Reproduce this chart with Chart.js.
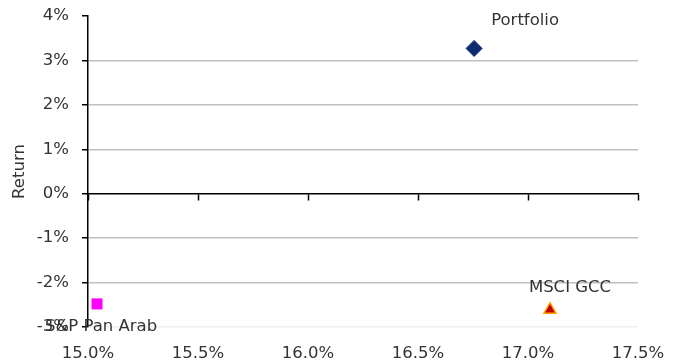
<!DOCTYPE html>
<html>
<head>
<meta charset="utf-8">
<script src="https://cdn.jsdelivr.net/npm/chart.js@4.4.1/dist/chart.umd.min.js"></script>
<style>
  html, body { margin: 0; padding: 0; background: #fff; }
  #wrap { width: 677px; height: 362px; position: relative; }
</style>
</head>
<body>
<div id="wrap"><canvas id="chart_riskReturn"></canvas></div>
<script>
// risk (x, %) vs return (y, %)
var seriesNames = ['Portfolio', 'S&P Pan Arab', 'MSCI GCC'];
var riskValues = [16.755, 15.041, 17.10];
var returnValues = [3.27, -2.48, -2.61];

var xTickMin = 15.0, xTickMax = 17.5, xTickStep = 0.5;
var yTickMin = -3, yTickMax = 4, yTickStep = 1;

var pointLooks = [
    { pointStyle: 'rectRot', radius: 8, bg: '#0d2b70', border: '#0d2b70', borderWidth: 1, labelDx: 51, labelDy: -28 },
    { pointStyle: 'rect', radius: 7.8, bg: '#ff00ff', border: '#ff00ff', borderWidth: 0, labelDx: 4, labelDy: 23 },
    { pointStyle: 'triangle', radius: 7, bg: '#c00000', border: '#ffa200', borderWidth: 1.5, labelDx: 20, labelDy: -22 }
];

var FONT = "'DejaVu Sans', Verdana, sans-serif";
var FONT_SIZE = 16.5;

var datasets = seriesNames.map(function(name, i) {
    var look = pointLooks[i];
    return {
        label: name,
        data: [{ x: riskValues[i], y: returnValues[i] }],
        pointStyle: look.pointStyle,
        pointRadius: look.radius,
        backgroundColor: look.bg,
        borderColor: look.border,
        borderWidth: look.borderWidth,
        xAxisID: 'x',
        yAxisID: 'y'
    };
});

// keep the plot area where the layout padding puts it
function noOverflow(scale) {
    scale.paddingLeft = 0;
    scale.paddingRight = 0;
    scale.paddingTop = 0;
    scale.paddingBottom = 0;
}

var chart_riskReturn = new Chart(document.getElementById('chart_riskReturn'), {
    type: 'scatter',
    data: { datasets: datasets },
    options: {
        animation: false,
        responsive: true,
        maintainAspectRatio: false,
        layout: {
            padding: { left: 10, right: 39, top: 16, bottom: 0 }
        },
        plugins: {
            legend: { display: false },
            tooltip: { enabled: false }
        },
        scales: {
            x: {
                type: 'linear',
                position: 'bottom',
                min: xTickMin,
                max: xTickMax,
                border: { display: false },
                grid: { display: false, drawTicks: false },
                ticks: {
                    stepSize: xTickStep,
                    padding: 17,
                    color: '#333',
                    font: { family: FONT, size: FONT_SIZE },
                    callback: function(value) { return value.toFixed(1) + '%'; }
                },
                afterFit: function(scale) { scale.height = 35; noOverflow(scale); }
            },
            xZero: {
                type: 'linear',
                position: { y: 0 },
                min: xTickMin,
                max: xTickMax,
                border: { display: true, color: '#000', width: 1.5 },
                grid: { drawOnChartArea: false, drawTicks: true, tickLength: 6, tickColor: '#000', tickWidth: 1.5 },
                ticks: { display: false, stepSize: xTickStep },
                afterFit: noOverflow
            },
            y: {
                type: 'linear',
                position: 'left',
                min: yTickMin,
                max: yTickMax,
                title: {
                    display: true,
                    text: 'Return',
                    color: '#333',
                    font: { family: FONT, size: FONT_SIZE },
                    padding: { top: 0, bottom: 7 }
                },
                border: { display: true, color: '#000', width: 1.5 },
                grid: {
                    drawTicks: true,
                    tickLength: 6,
                    tickColor: '#000',
                    color: function(ctx) {
                        var v = ctx.tick ? ctx.tick.value : null;
                        if (v === yTickMax || v === 0) return 'rgba(0,0,0,0)';
                        if (v === yTickMin) return '#f0f0f0';
                        return '#c0c0c0';
                    },
                    lineWidth: 1.5
                },
                ticks: {
                    stepSize: yTickStep,
                    padding: 13,
                    color: '#333',
                    font: { family: FONT, size: FONT_SIZE },
                    callback: function(value) { return value + '%'; }
                },
                afterFit: function(scale) { scale.width = 78; noOverflow(scale); }
            }
        }
    },
    plugins: [{
        id: 'pointLabels',
        afterDatasetsDraw: function(chart) {
            var ctx = chart.ctx;
            ctx.save();
            ctx.font = FONT_SIZE + 'px ' + FONT;
            ctx.fillStyle = '#333';
            ctx.textAlign = 'center';
            ctx.textBaseline = 'middle';
            chart.data.datasets.forEach(function(ds, i) {
                var el = chart.getDatasetMeta(i).data[0];
                var look = pointLooks[i];
                ctx.fillText(ds.label, el.x + look.labelDx, el.y + look.labelDy);
            });
            ctx.restore();
        }
    }, {
        id: 'whiteBackground',
        beforeDraw: function(chart) {
            var ctx = chart.canvas.getContext('2d');
            ctx.save();
            ctx.globalCompositeOperation = 'destination-over';
            ctx.fillStyle = 'white';
            ctx.fillRect(0, 0, chart.canvas.width, chart.canvas.height);
            ctx.restore();
        }
    }]
});
</script>
</body>
</html>
